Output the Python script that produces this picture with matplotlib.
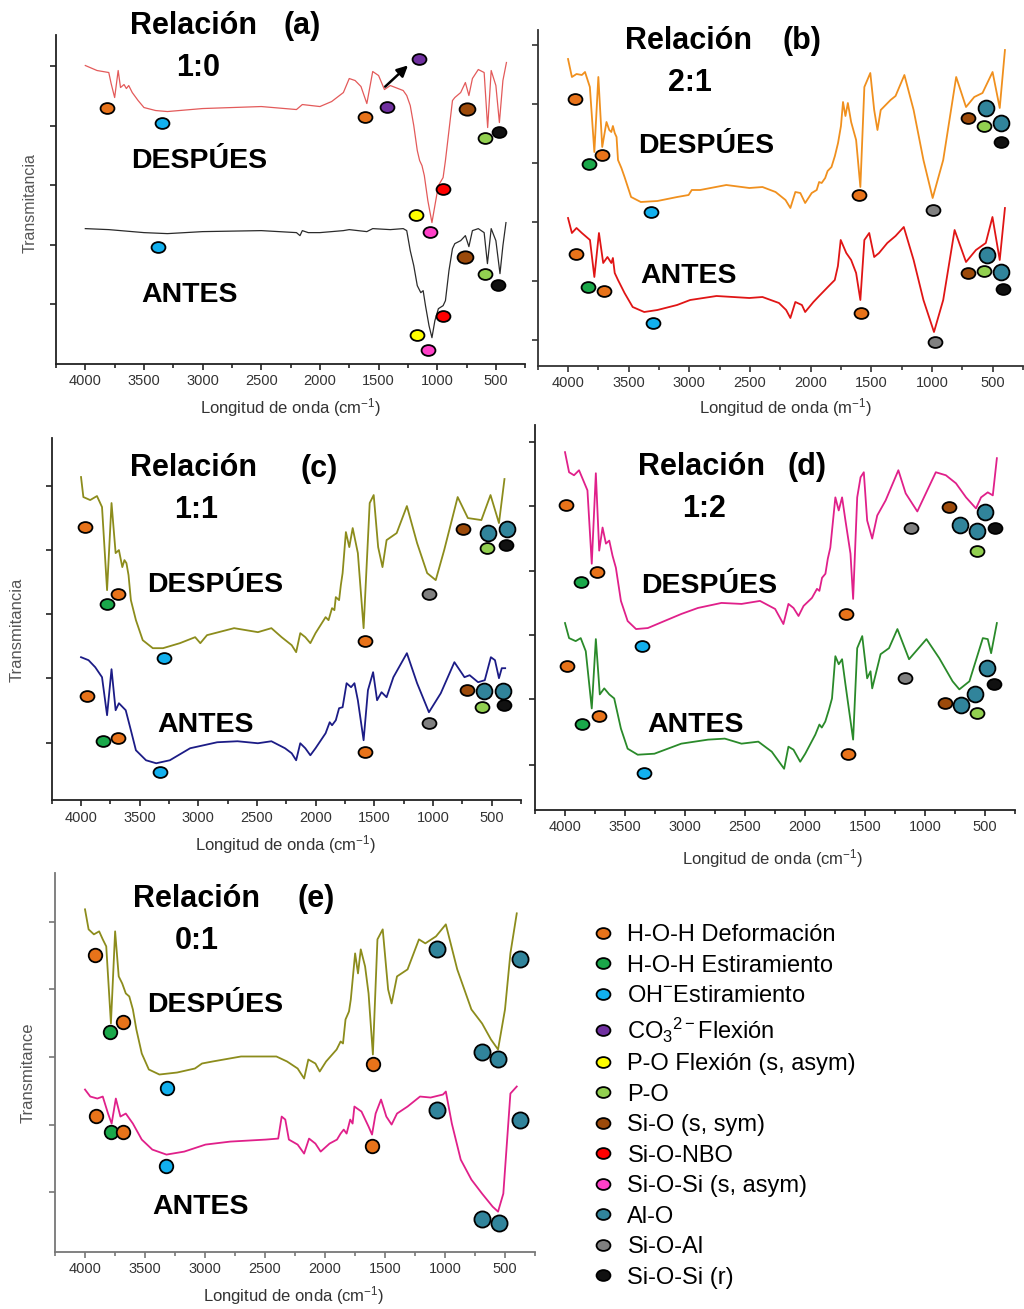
import numpy as np
import matplotlib
matplotlib.use("Agg")
import matplotlib.pyplot as plt
from matplotlib.path import Path
from matplotlib.transforms import Affine2D
from matplotlib.lines import Line2D
from matplotlib.ticker import FixedLocator, MultipleLocator

plt.rcParams['font.family'] = ['Liberation Sans', 'DejaVu Sans']
plt.rcParams['mathtext.fontset'] = 'custom'
plt.rcParams['mathtext.rm'] = 'Liberation Sans'
plt.rcParams['mathtext.it'] = 'Liberation Sans:italic'
plt.rcParams['mathtext.bf'] = 'Liberation Sans:bold'

# -------------------------------
# Data: (wavenumber cm-1, transmittance a.u.)
# -------------------------------
a_despues = [(4000, 298), (3900, 293), (3800, 291), (3780, 280), (3750, 266), (3720, 293),
             (3700, 276), (3670, 279), (3650, 275), (3630, 278), (3600, 271), (3550, 263),
             (3500, 256), (3400, 253), (3300, 252), (3000, 255), (2500, 257), (2200, 254),
             (2150, 259), (2000, 257), (1900, 262), (1800, 271), (1750, 285), (1700, 283),
             (1650, 277), (1600, 260), (1550, 292), (1500, 288), (1450, 274), (1400, 278),
             (1290, 273), (1260, 268), (1230, 258), (1200, 238), (1170, 213), (1150, 203),
             (1130, 198), (1110, 188), (1080, 163), (1045, 141), (1020, 158), (990, 178),
             (950, 186), (930, 203), (900, 233), (870, 263), (850, 266), (800, 271),
             (760, 281), (730, 268), (700, 285), (650, 294), (600, 291), (570, 236),
             (540, 293), (500, 278), (470, 241), (440, 283), (410, 301)]
a_antes = [(4000, 135), (3800, 134), (3600, 132), (3500, 131), (3300, 130), (3000, 132),
           (2500, 133), (2200, 131), (2170, 128), (2150, 133), (2100, 131), (2000, 131),
           (1800, 133), (1750, 134), (1600, 132), (1550, 135), (1400, 134), (1290, 135),
           (1260, 133), (1230, 113), (1200, 98), (1170, 78), (1140, 71), (1120, 73),
           (1100, 58), (1070, 38), (1045, 26), (1020, 43), (990, 55), (950, 58), (930, 63),
           (900, 93), (870, 115), (850, 120), (800, 123), (760, 128), (730, 117), (700, 133),
           (650, 135), (600, 131), (572, 100), (540, 135), (500, 123), (465, 90), (440, 118),
           (414, 141)]

b_despues = [(4000, 307), (3968, 289), (3930, 292), (3886, 291), (3860, 294), (3820, 279),
             (3783, 214), (3750, 289), (3718, 219), (3683, 244), (3660, 236), (3643, 234),
             (3630, 240), (3615, 233), (3600, 229), (3588, 206), (3560, 198), (3534, 189),
             (3480, 169), (3400, 164), (3263, 165), (3100, 169), (3006, 171), (2980, 176),
             (2911, 176), (2695, 181), (2505, 178), (2397, 179), (2289, 174), (2207, 166),
             (2167, 158), (2126, 174), (2085, 173), (2045, 163), (1991, 173), (1950, 176),
             (1930, 184), (1909, 183), (1880, 188), (1860, 195), (1828, 199), (1800, 210),
             (1774, 223), (1750, 240), (1733, 264), (1713, 250), (1693, 263), (1666, 244),
             (1625, 226), (1590, 179), (1557, 279), (1508, 293), (1476, 256), (1449, 236),
             (1422, 256), (1341, 266), (1300, 270), (1227, 291), (1151, 256), (1070, 206),
             (994, 168), (907, 206), (800, 289), (719, 259), (651, 269), (583, 273),
             (500, 294), (441, 258), (398, 316)]
b_antes = [(4000, 148), (3968, 133), (3930, 138), (3886, 133), (3819, 126), (3783, 89),
           (3745, 133), (3710, 103), (3675, 109), (3643, 103), (3630, 108), (3615, 93),
           (3588, 86), (3534, 73), (3467, 59), (3372, 54), (3263, 56), (3101, 61),
           (2993, 66), (2776, 70), (2505, 68), (2397, 69), (2261, 63), (2202, 56),
           (2167, 48), (2126, 64), (2072, 61), (2045, 54), (1977, 64), (1930, 70),
           (1882, 76), (1850, 80), (1801, 86), (1775, 100), (1752, 126), (1706, 113),
           (1666, 106), (1625, 93), (1590, 66), (1557, 126), (1517, 133), (1476, 109),
           (1436, 113), (1368, 123), (1300, 130), (1232, 139), (1151, 106), (1070, 66),
           (983, 34), (907, 66), (813, 136), (719, 104), (637, 116), (556, 123), (501, 149),
           (441, 106), (398, 158)]

c_despues = [(4000, 323), (3980, 303), (3922, 300), (3864, 304), (3821, 293), (3778, 210),
             (3740, 297), (3705, 247), (3677, 250), (3648, 233), (3630, 240), (3613, 237),
             (3595, 225), (3575, 200), (3532, 180), (3474, 160), (3388, 152), (3301, 152),
             (3157, 157), (3027, 163), (2983, 157), (2926, 165), (2695, 172), (2492, 168),
             (2377, 172), (2290, 163), (2204, 155), (2166, 148), (2131, 167), (2088, 163),
             (2045, 157), (2001, 167), (1915, 183), (1890, 180), (1860, 192), (1840, 190),
             (1828, 203), (1800, 200), (1785, 215), (1770, 227), (1742, 268), (1713, 253),
             (1684, 272), (1640, 247), (1591, 172), (1539, 297), (1505, 305), (1467, 253),
             (1430, 233), (1395, 260), (1309, 267), (1222, 294), (1135, 257), (1049, 227),
             (976, 220), (904, 250), (789, 303), (702, 282), (587, 280), (509, 305),
             (437, 277), (390, 321)]
c_antes = [(4000, 143), (3936, 140), (3879, 133), (3821, 123), (3778, 85), (3740, 131),
           (3705, 90), (3677, 97), (3619, 90), (3575, 70), (3532, 50), (3446, 40), (3359, 37),
           (3243, 40), (3070, 52), (2839, 58), (2666, 59), (2492, 57), (2377, 59), (2261, 52),
           (2204, 47), (2166, 40), (2131, 57), (2088, 52), (2045, 45), (2001, 52), (1915, 67),
           (1880, 78), (1860, 75), (1828, 80), (1800, 92), (1770, 93), (1736, 117),
           (1698, 113), (1669, 117), (1640, 100), (1591, 60), (1554, 110), (1510, 128),
           (1476, 100), (1438, 108), (1395, 103), (1337, 123), (1222, 147), (1135, 117),
           (1034, 88), (933, 107), (817, 138), (731, 123), (687, 125), (615, 118), (558, 120),
           (506, 143), (471, 140), (437, 122), (413, 132), (384, 132)]

d_despues = [(4000, 356), (3966, 336), (3925, 333), (3883, 338), (3841, 326), (3813, 318),
             (3777, 245), (3743, 335), (3715, 258), (3687, 281), (3659, 265), (3631, 268),
             (3604, 253), (3576, 241), (3534, 208), (3478, 188), (3408, 180), (3310, 181),
             (3171, 188), (3031, 195), (2892, 201), (2696, 206), (2529, 205), (2375, 208),
             (2249, 200), (2180, 185), (2138, 205), (2096, 201), (2054, 193), (2012, 203),
             (1942, 211), (1900, 220), (1880, 218), (1858, 231), (1830, 235), (1810, 250),
             (1789, 261), (1747, 311), (1719, 298), (1691, 311), (1663, 288), (1621, 255),
             (1599, 210), (1565, 311), (1537, 331), (1510, 336), (1482, 288), (1440, 270),
             (1398, 293), (1328, 308), (1222, 338), (1161, 315), (1064, 297), (910, 336),
             (826, 333), (742, 325), (658, 311), (575, 300), (533, 311), (477, 316),
             (435, 313), (401, 350)]
d_antes = [(4000, 186), (3966, 171), (3911, 168), (3869, 171), (3827, 158), (3777, 101),
           (3743, 170), (3710, 115), (3673, 121), (3631, 115), (3590, 111), (3534, 81),
           (3478, 61), (3394, 55), (3255, 56), (3031, 66), (2808, 70), (2668, 71), (2529, 66),
           (2389, 68), (2277, 58), (2174, 41), (2138, 63), (2096, 60), (2040, 48), (1998, 56),
           (1914, 75), (1880, 85), (1860, 82), (1831, 88), (1800, 100), (1775, 111),
           (1747, 153), (1719, 145), (1691, 150), (1663, 125), (1599, 70), (1565, 161),
           (1523, 173), (1482, 131), (1454, 138), (1440, 121), (1370, 155), (1300, 161),
           (1230, 180), (1133, 150), (988, 170), (881, 151), (770, 128), (714, 120),
           (630, 128), (518, 171), (477, 170), (449, 156), (401, 186)]

e_despues = [(4000, 342), (3970, 322), (3926, 317), (3882, 320), (3852, 312), (3823, 305),
             (3784, 228), (3749, 320), (3719, 275), (3690, 268), (3660, 258), (3631, 255),
             (3601, 242), (3572, 222), (3527, 198), (3468, 182), (3380, 177), (3232, 179),
             (3084, 183), (3025, 188), (2937, 190), (2700, 195), (2405, 195), (2316, 190),
             (2228, 183), (2174, 173), (2139, 192), (2080, 188), (2044, 180), (1991, 190),
             (1903, 202), (1870, 210), (1850, 208), (1829, 232), (1800, 240), (1785, 252),
             (1749, 298), (1725, 278), (1702, 302), (1666, 285), (1637, 258), (1601, 197),
             (1563, 312), (1519, 322), (1474, 262), (1445, 248), (1400, 275), (1312, 282),
             (1217, 312), (1164, 308), (1075, 315), (993, 327), (898, 282), (780, 242),
             (691, 228), (617, 212), (558, 202), (500, 242), (455, 298), (402, 338)]
e_antes = [(4000, 162), (3956, 155), (3897, 153), (3852, 155), (3808, 138), (3778, 128),
           (3743, 153), (3705, 135), (3660, 138), (3601, 128), (3527, 112), (3439, 102),
           (3321, 97), (3173, 100), (2996, 107), (2789, 110), (2493, 112), (2390, 113),
           (2361, 135), (2331, 132), (2301, 112), (2228, 107), (2174, 98), (2133, 113),
           (2080, 108), (2036, 100), (1962, 108), (1900, 112), (1870, 118), (1844, 122),
           (1820, 118), (1790, 132), (1770, 128), (1755, 145), (1696, 140), (1637, 125),
           (1608, 117), (1578, 138), (1533, 152), (1489, 135), (1445, 127), (1400, 138),
           (1312, 145), (1208, 155), (1120, 154), (1017, 157), (993, 160), (943, 128),
           (869, 92), (780, 72), (691, 58), (603, 45), (558, 40), (514, 58), (455, 158),
           (402, 165)]

# band assignments: (band, wavenumber, transmittance)
a_marks = [('hoh_def', 3811, 256), ('oh', 3347, 241), ('hoh_def', 1618, 247), ('co3', 1429, 257),
           ('co3', 1154, 305), ('sio', 750, 255), ('po', 595, 226), ('siosi_r', 475, 232),
           ('nbo', 948, 175), ('po_flex', 1180, 149), ('siosi_asym', 1060, 132),
           ('oh', 3381, 117), ('sio', 767, 107), ('po', 595, 90), ('siosi_r', 483, 79),
           ('nbo', 948, 48), ('po_flex', 1171, 29), ('siosi_asym', 1076, 14)]
b_marks = [('hoh_def', 3946, 267), ('hoh_est', 3824, 202), ('hoh_def', 3716, 211), ('oh', 3312, 154),
           ('hoh_def', 1598, 171), ('sioal', 994, 156), ('sio', 702, 248), ('alo', 556, 258),
           ('po', 569, 240), ('alo', 433, 243), ('siosi_r', 433, 224),
           ('hoh_def', 3932, 112), ('hoh_est', 3838, 79), ('hoh_def', 3702, 75), ('oh', 3296, 43),
           ('hoh_def', 1584, 53), ('sioal', 975, 24), ('sio', 704, 93), ('alo', 547, 111),
           ('po', 569, 95), ('alo', 428, 94), ('siosi_r', 412, 77)]
c_marks = [('hoh_def', 3965, 273), ('hoh_est', 3775, 196), ('hoh_def', 3682, 206), ('oh', 3292, 142),
           ('hoh_def', 1583, 159), ('sioal', 1034, 206), ('sio', 745, 271), ('alo', 529, 267),
           ('po', 537, 252), ('alo', 370, 271), ('siosi_r', 376, 255),
           ('hoh_def', 3945, 104), ('hoh_est', 3812, 59), ('hoh_def', 3682, 62), ('oh', 3330, 28),
           ('hoh_def', 1583, 48), ('sioal', 1034, 77), ('sio', 711, 110), ('alo', 563, 109),
           ('po', 578, 93), ('alo', 404, 109), ('siosi_r', 390, 95)]
d_marks = [('hoh_def', 3994, 303), ('hoh_est', 3863, 227), ('hoh_def', 3735, 237), ('oh', 3358, 163),
           ('hoh_def', 1655, 195), ('sioal', 1119, 281), ('sio', 798, 301), ('alo', 708, 284),
           ('alo', 499, 296), ('alo', 569, 278), ('siosi_r', 415, 281), ('po', 566, 258),
           ('hoh_def', 3980, 143), ('hoh_est', 3860, 86), ('hoh_def', 3715, 94), ('oh', 3338, 37),
           ('hoh_def', 1641, 56), ('sioal', 1166, 131), ('sio', 831, 106), ('alo', 700, 104),
           ('alo', 583, 115), ('alo', 482, 141), ('siosi_r', 429, 125), ('po', 566, 96)]
e_marks = [('hoh_def', 3917, 296), ('hoh_est', 3793, 219), ('hoh_def', 3684, 229), ('oh', 3315, 164),
           ('hoh_def', 1601, 188), ('alo', 1070, 302), ('alo', 376, 292), ('alo', 691, 199),
           ('alo', 558, 192),
           ('hoh_def', 3911, 136), ('hoh_est', 3787, 120), ('hoh_def', 3684, 120), ('oh', 3329, 86),
           ('hoh_def', 1607, 106), ('alo', 1070, 142), ('alo', 376, 132), ('alo', 691, 33),
           ('alo', 550, 29)]

bands = ['hoh_def', 'hoh_est', 'oh', 'co3', 'po_flex', 'po', 'sio', 'nbo', 'siosi_asym',
         'alo', 'sioal', 'siosi_r']
band_labels = ['H-O-H Deformación', 'H-O-H Estiramiento', 'OH$^{-}$Estiramiento',
               'CO$_3$$^{2-}$Flexión', 'P-O Flexión (s, asym)', 'P-O', 'Si-O (s, sym)',
               'Si-O-NBO', 'Si-O-Si (s, asym)', 'Al-O', 'Si-O-Al', 'Si-O-Si (r)']
band_colors = ['#e8731a', '#1aa84a', '#12b0ee', '#7030a0', '#ffff00', '#92d050', '#9c4a0a',
               '#ff0000', '#ff40c8', '#31849b', '#808080', '#111111']
COLORS = dict(zip(bands, band_colors))

W, H = 1024, 1309
fig = plt.figure(figsize=(W / 100, H / 100), dpi=100)

ELL = Path.unit_circle().transformed(Affine2D().scale(1.0, 0.78))


def px_axes(l, t, r, b):
    return fig.add_axes([l / W, 1 - b / H, (r - l) / W, (b - t) / H])


def ftext(x, y, s, **kw):
    fig.text(x / W, 1 - y / H, s, **kw)


def style(ax, ytop, yticks, spine='#222222'):
    ax.set_xlim(4250, 250)
    ax.set_ylim(0, ytop)
    ax.xaxis.set_major_locator(FixedLocator([4000, 3500, 3000, 2500, 2000, 1500, 1000, 500]))
    ax.xaxis.set_minor_locator(MultipleLocator(250))
    ax.set_yticks(yticks)
    ax.set_yticklabels([])
    for s in ['top', 'right']:
        ax.spines[s].set_visible(False)
    for s in ['left', 'bottom']:
        ax.spines[s].set_linewidth(1.3)
        ax.spines[s].set_color(spine)
    ax.tick_params(axis='x', which='major', direction='out', length=4.5, width=1.2,
                   color=spine, labelsize=10.5, labelcolor='#333333', pad=3)
    ax.tick_params(axis='x', which='minor', direction='out', length=3, width=1.2, color=spine)
    ax.tick_params(axis='y', direction='out', length=4.5, width=1.2, color=spine)
    ax.patch.set_alpha(0)


def draw_marks(ax, marks, round_all=False, big_sio=False):
    for key, wn, t in marks:
        if round_all:
            shape, size = 'o', (135 if key == 'alo' else 95)
        elif key == 'alo':
            shape, size = 'o', 130
        elif key == 'sio' and big_sio:
            shape, size = ELL, 130
        else:
            shape, size = ELL, 100
        ax.scatter(wn, t, s=size, marker=shape, c=COLORS[key], edgecolors='black',
                   linewidths=1.3, zorder=5, clip_on=False)


def plot_pair(ax, desp, antes, c1, c2, lw):
    d = np.array(desp)
    a = np.array(antes)
    ax.plot(d[:, 0], d[:, 1], color=c1, lw=lw)
    ax.plot(a[:, 0], a[:, 1], color=c2, lw=lw)


title_kw = dict(fontsize=22, fontweight='bold', color='black')
state_kw = dict(fontsize=20.5, fontweight='bold', color='black')
xlab = 'Longitud de onda (cm$^{-1}$)'

# -------------------------------
# (a) 1:0
# -------------------------------
ax_a = px_axes(56, 35.5, 525.2, 363.7)
style(ax_a, 328, [59.5, 119, 178.5, 238, 297.5])
plot_pair(ax_a, a_despues, a_antes, '#e35a5a', '#2b2b2b', 0.9)
draw_marks(ax_a, a_marks, big_sio=True)
ax_a.annotate('', xy=(1232, 300), xytext=(1461, 275),
              arrowprops=dict(arrowstyle='-|>', color='black', lw=1.8, mutation_scale=16))
ftext(130, 34, 'Relación', ha='left', va='baseline', **title_kw)
ftext(302, 34, '(a)', ha='center', va='baseline', **title_kw)
ftext(198, 76, '1:0', ha='center', va='baseline', **title_kw)
ftext(131, 168, 'DESPÚES', ha='left', va='baseline', **state_kw)
ftext(141, 302, 'ANTES', ha='left', va='baseline', **state_kw)
ftext(291, 413, xlab, ha='center', va='baseline', fontsize=12, color='#333333')
ftext(30, 203, 'Transmitancia', ha='center', va='center', rotation=90, fontsize=11.5,
      color='#555555')

# -------------------------------
# (b) 2:1
# -------------------------------
ax_b = px_axes(537.7, 30, 1022.9, 366)
style(ax_b, 336, [26, 85, 144, 203, 262, 321], spine='#333333')
plot_pair(ax_b, b_despues, b_antes, '#f0901e', '#e01515', 1.3)
draw_marks(ax_b, b_marks)
ftext(625, 49, 'Relación', ha='left', va='baseline', **title_kw)
ftext(802, 49, '(b)', ha='center', va='baseline', **title_kw)
ftext(690, 91, '2:1', ha='center', va='baseline', **title_kw)
ftext(638, 153, 'DESPÚES', ha='left', va='baseline', **state_kw)
ftext(640, 283, 'ANTES', ha='left', va='baseline', **state_kw)
ftext(785, 413, 'Longitud de onda (m$^{-1}$)', ha='center', va='baseline', fontsize=12,
      color='#333333')

# -------------------------------
# (c) 1:1
# -------------------------------
ax_c = px_axes(51.7, 438, 520.9, 800.3)
style(ax_c, 362, [57, 122, 186, 250, 314])
plot_pair(ax_c, c_despues, c_antes, '#8c8c1c', '#1c1c86', 1.3)
draw_marks(ax_c, c_marks)
ftext(130, 476, 'Relación', ha='left', va='baseline', **title_kw)
ftext(319, 477, '(c)', ha='center', va='baseline', **title_kw)
ftext(196, 518, '1:1', ha='center', va='baseline', **title_kw)
ftext(147, 592, 'DESPÚES', ha='left', va='baseline', **state_kw)
ftext(157, 732, 'ANTES', ha='left', va='baseline', **state_kw)
ftext(286, 850, xlab, ha='center', va='baseline', fontsize=12, color='#333333')
ftext(17, 630, 'Transmitancia', ha='center', va='center', rotation=90, fontsize=12,
      color='#555555')

# -------------------------------
# (d) 1:2
# -------------------------------
ax_d = px_axes(535, 425, 1015, 810)
style(ax_d, 383, [45, 110, 174, 238, 302, 366])
plot_pair(ax_d, d_despues, d_antes, '#e0208a', '#2a8a2a', 1.3)
draw_marks(ax_d, d_marks)
ftext(638, 475, 'Relación', ha='left', va='baseline', **title_kw)
ftext(807, 475, '(d)', ha='center', va='baseline', **title_kw)
ftext(704, 517, '1:2', ha='center', va='baseline', **title_kw)
ftext(641, 593, 'DESPÚES', ha='left', va='baseline', **state_kw)
ftext(647, 732, 'ANTES', ha='left', va='baseline', **state_kw)
ftext(773, 864, xlab, ha='center', va='baseline', fontsize=12, color='#333333')

# -------------------------------
# (e) 0:1
# -------------------------------
ax_e = px_axes(55, 873.3, 535, 1251.7)
style(ax_e, 378, [60, 127, 194, 262, 329], spine='#777777')
plot_pair(ax_e, e_despues, e_antes, '#8c8c1c', '#e0208a', 1.3)
draw_marks(ax_e, e_marks, round_all=True)
ftext(133, 907, 'Relación', ha='left', va='baseline', **title_kw)
ftext(316, 907, '(e)', ha='center', va='baseline', **title_kw)
ftext(197, 949, '0:1', ha='center', va='baseline', **title_kw)
ftext(147, 1012, 'DESPÚES', ha='left', va='baseline', **state_kw)
ftext(152, 1214, 'ANTES', ha='left', va='baseline', **state_kw)
ftext(294, 1301, xlab, ha='center', va='baseline', fontsize=12, color='#333333')
ftext(28, 1073, 'Transmitance', ha='center', va='center', rotation=90, fontsize=12,
      color='#555555')

# -------------------------------
# Legend
# -------------------------------
handles = [Line2D([], [], ls='none', marker=ELL, ms=10, mfc=c, mec='black', mew=1.3)
           for c in band_colors]
fig.legend(handles, band_labels, loc='upper left', bbox_to_anchor=(592 / W, 1 - 924 / H),
           frameon=False, fontsize=17, handlelength=0.9, handletextpad=0.6,
           labelspacing=0.36, borderaxespad=0, borderpad=0)

fig.savefig('out.png', dpi=100)
